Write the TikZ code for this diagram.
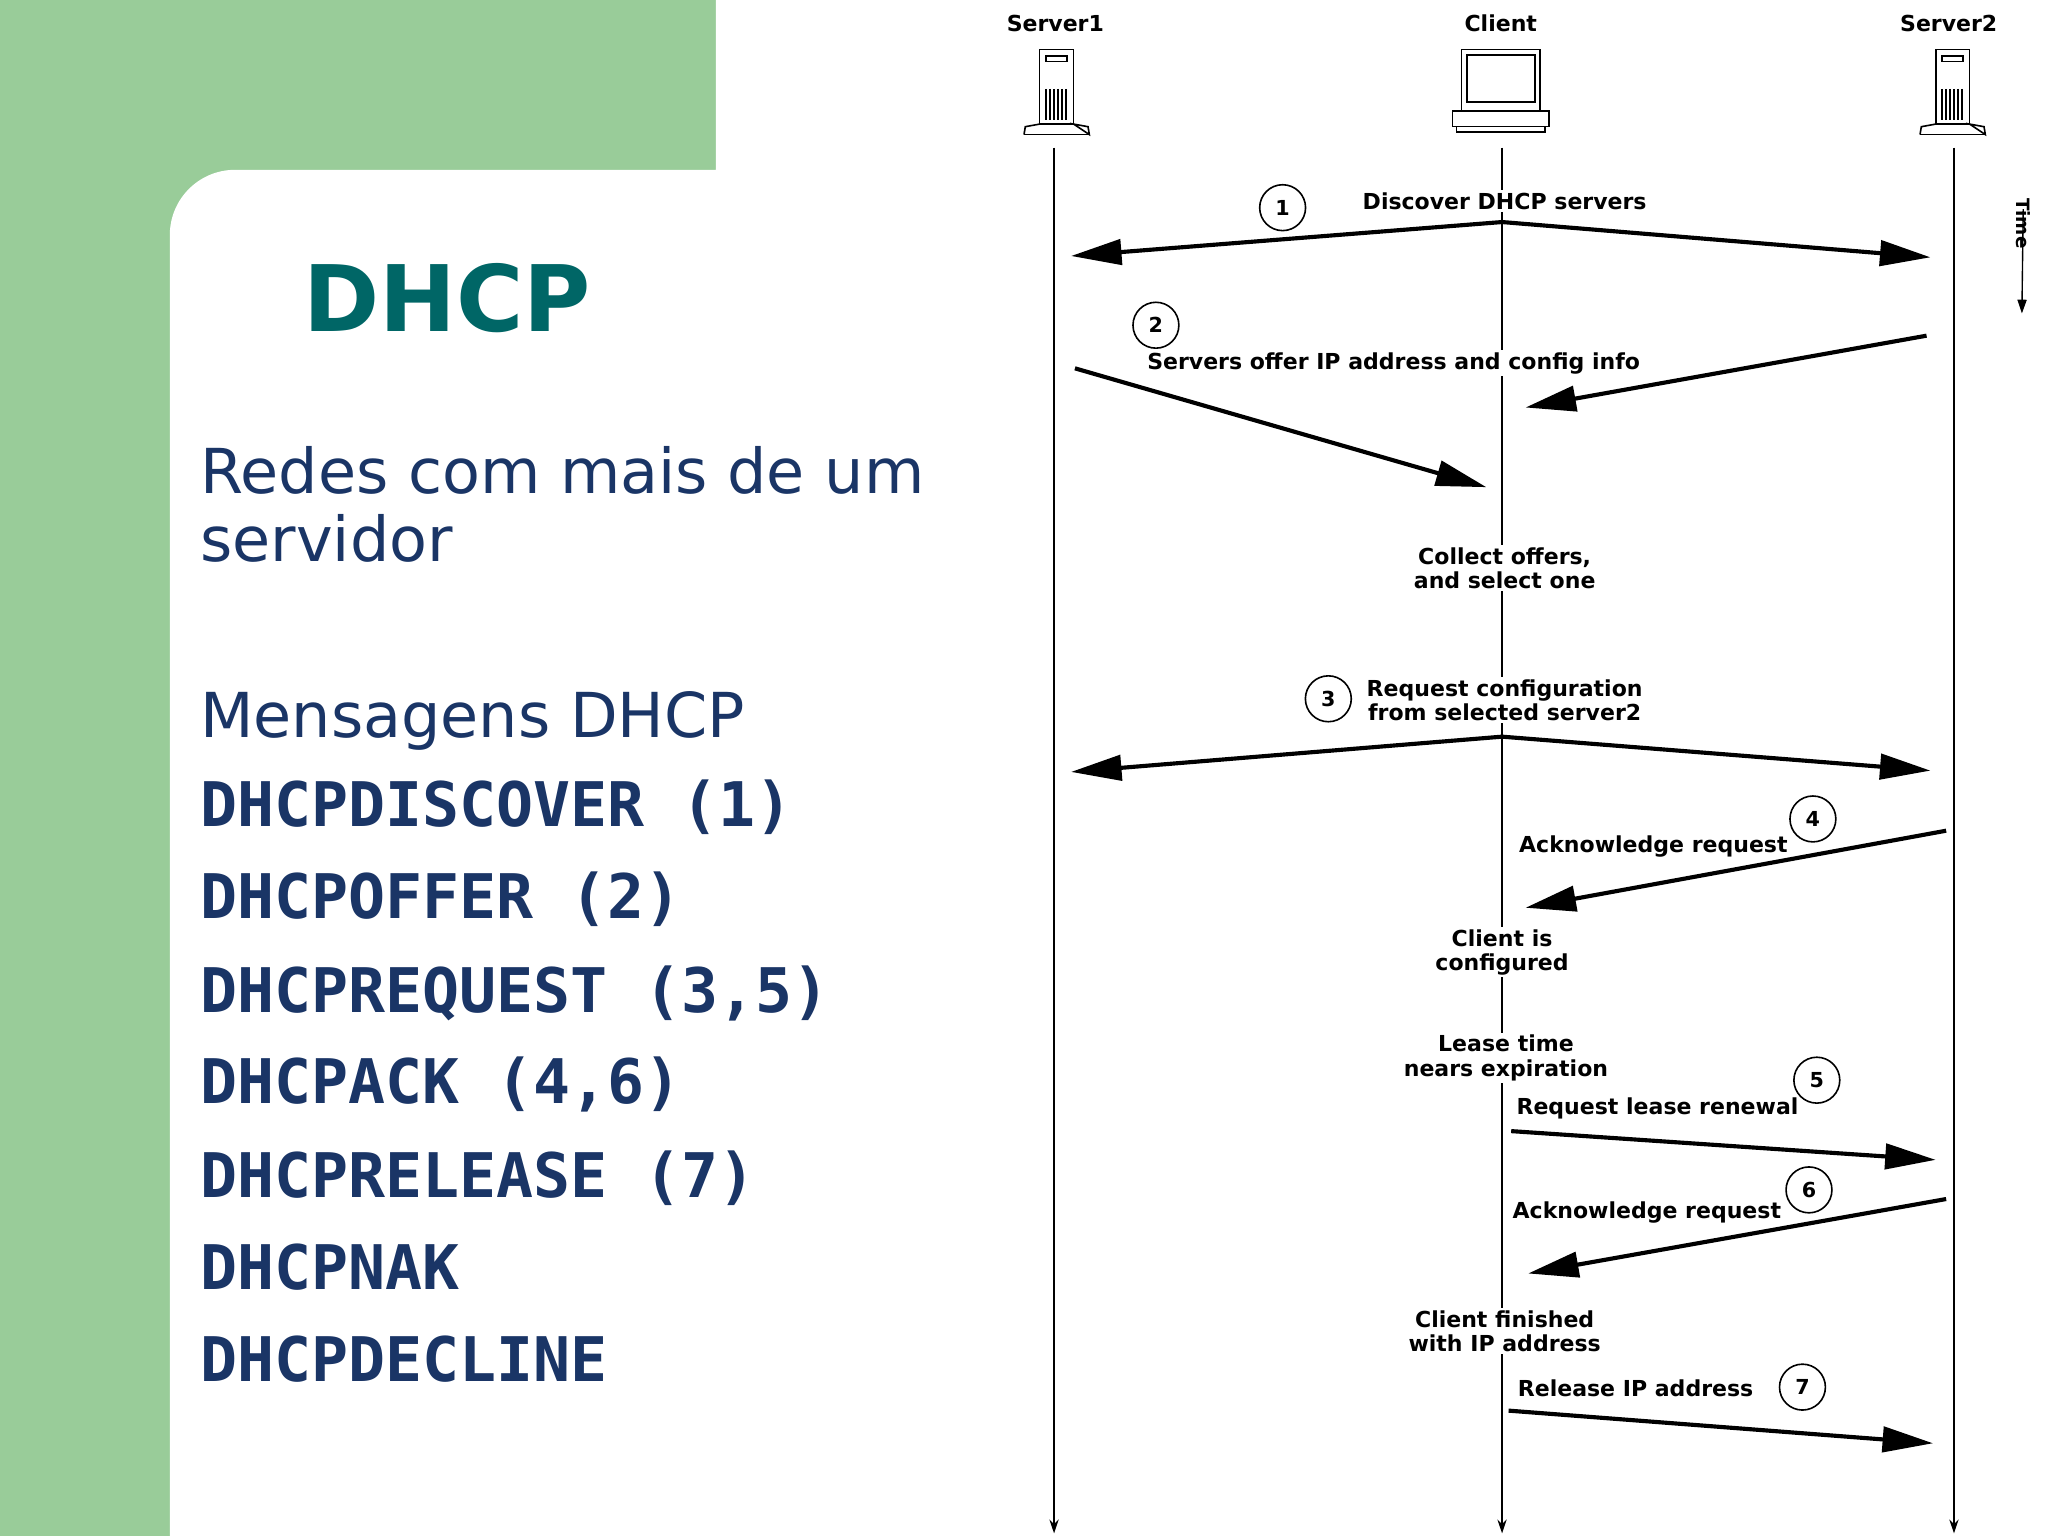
\documentclass[tikz,border=0pt]{standalone}
\usepackage{fontspec}
\setmainfont{DejaVu Sans}
\newfontfamily\monob{DejaVu Sans Mono}
\newfontfamily\diag{DejaVu Sans}
\usetikzlibrary{arrows.meta}
\definecolor{slgreen}{HTML}{99CC99}
\definecolor{teal}{HTML}{006666}
\definecolor{navy}{HTML}{1A3566}
\tikzset{
 msg/.style={line width=1.8pt,-{Triangle[length=22pt,width=11pt]}},
 life/.style={line width=0.9pt,-{Stealth[length=6pt,width=4pt]}},
 lbl/.style={font=\diag\fontsize{9.6}{10.6}\selectfont\bfseries,fill=white,inner sep=1pt,align=center},
 num/.style={circle,draw,line width=0.7pt,minimum size=20pt,inner sep=0pt,font=\diag\fontsize{9}{10}\selectfont\bfseries},
 hd/.style={font=\diag\fontsize{9.6}{11}\selectfont\bfseries},
 mono/.style={font=\monob\fontsize{26.8}{30}\selectfont\bfseries,text=navy,anchor=base west,inner sep=0pt},
 ico/.style={line width=0.7pt}
}
\begin{document}
\begin{tikzpicture}[x=0.02cm,y=-0.02cm]
\useasboundingbox (0,0) rectangle (1568,1176);
\fill[slgreen] (0,0) rectangle (1568,1176);
\fill[white] (130,1176) -- (130,180) arc[start angle=180,end angle=90,radius=1cm] -- (548,130) -- (548,0) -- (1568,0) -- (1568,1176) -- cycle;
% left text
\node[anchor=base west,inner sep=0pt,text=teal,font=\fontsize{40}{44}\selectfont\bfseries] (title) at (232,254) {DHCP};
\node[anchor=base west,inner sep=0pt,text=navy,font=\fontsize{27}{30}\selectfont] (r1) at (153,378) {Redes com mais de um};
\node[anchor=base west,inner sep=0pt,text=navy,font=\fontsize{27}{30}\selectfont] (r2) at (153,430) {servidor};
\node[anchor=base west,inner sep=0pt,text=navy,font=\fontsize{27}{30}\selectfont] (m0) at (153,565) {Mensagens DHCP};
\node[mono] (m1) at (153,633) {DHCPDISCOVER (1)};
\node[mono] (m2) at (153,703) {DHCPOFFER (2)};
\node[mono] (m3) at (153,775) {DHCPREQUEST (3,5)};
\node[mono] (m4) at (153,845) {DHCPACK (4,6)};
\node[mono] (m5) at (153,917) {DHCPRELEASE (7)};
\node[mono] (m6) at (153,987) {DHCPNAK};
\node[mono] (m7) at (153,1058) {DHCPDECLINE};
% headers
\node[hd] (h1) at (808,18) {Server1};
\node[hd] (h2) at (1149,18) {Client};
\node[hd] (h3) at (1492,18) {Server2};
% server icons
\foreach \cx in {809,1495}{
 \draw[ico] (\cx-13,38) rectangle (\cx+13,95);
 \draw[ico] (\cx-8,43) rectangle (\cx+8,47);
 \foreach \k in {-8,-5,-2,1,4,7} \draw[line width=0.8pt] (\cx+\k,68) -- (\cx+\k,92);
 \draw[ico] (\cx-25,103) -- (\cx-24,97) -- (\cx-13,95) (\cx+13,95) -- (\cx+24,97) -- (\cx+25,103) -- cycle;
 \draw[ico] (\cx-25,103) -- (\cx+25,103);
}
% laptop
\draw[ico] (1119,38) rectangle (1179,85);
\draw[ico] (1123,42) rectangle (1175,78);
\draw[ico] (1112,85) rectangle (1186,97);
\draw[ico] (1115,97) rectangle (1183,101);
% lifelines
\coordinate (s1a) at (807,113); \coordinate (s1b) at (807,1174);
\coordinate (ca) at (1150,113); \coordinate (cb) at (1150,1174);
\coordinate (s2a) at (1496,113); \coordinate (s2b) at (1496,1174);
\draw[life] (s1a) -- (s1b);
\draw[life] (ca) -- (cb);
\draw[life] (s2a) -- (s2b);
% time
\node[rotate=-90,font=\diag\fontsize{8}{9}\selectfont\bfseries,inner sep=1pt] (time) at (1549,171) {Time};
\coordinate (t2) at (1548,240);
\draw[line width=0.6pt,-{Triangle[length=6pt,width=4pt]}] ([yshift=-6pt]time.west) -- (t2);
% labels
\node[lbl] (l1) at (1152,154) {Discover DHCP servers};
\node[num] (n1) at (982,159) {1};
\node[lbl] (l2) at (1067,278) {Servers offer IP address and config info};
\node[num] (n2) at (885,249) {2};
\node[lbl] (l3) at (1152,435) {Collect offers,\\and select one};
\node[lbl] (l4) at (1152,536) {Request configuration\\from selected server2};
\node[num] (n3) at (1017,535) {3};
\node[lbl,anchor=west] (l5) at (1161,648) {Acknowledge request};
\node[num] (n4) at (1388,627) {4};
\node[lbl] (l6) at (1150,729) {Client is\\configured};
\node[lbl] (l7) at (1153,810) {Lease time\\nears expiration};
\node[lbl,anchor=west] (l8) at (1159,849) {Request lease renewal};
\node[num] (n5) at (1391,827) {5};
\node[lbl,anchor=west] (l9) at (1156,928) {Acknowledge request};
\node[num] (n6) at (1385,911) {6};
\node[lbl] (l10) at (1152,1019) {Client finished\\with IP address};
\node[lbl,anchor=west] (l11) at (1160,1063) {Release IP address};
\node[num] (n7) at (1380,1062) {7};
% message arrows
\coordinate (a1) at (1150,170); \coordinate (a1l) at (820,196); \coordinate (a1r) at (1478,197);
\draw[msg] (a1) -- (a1l); \draw[msg] (a1) -- (a1r);
\coordinate (a2s) at (1475,257); \coordinate (a2e) at (1168,312);
\draw[msg] (a2s) -- (a2e);
\coordinate (a2t) at (823,282); \coordinate (a2u) at (1138,373);
\draw[msg] (a2t) -- (a2u);
\coordinate (a3) at (1150,564); \coordinate (a3l) at (820,591); \coordinate (a3r) at (1478,590);
\draw[msg] (a3) -- (a3l); \draw[msg] (a3) -- (a3r);
\coordinate (a4s) at (1490,636); \coordinate (a4e) at (1168,695);
\draw[msg] (a4s) -- (a4e);
\coordinate (a5s) at (1157,866); \coordinate (a5e) at (1482,888);
\draw[msg] (a5s) -- (a5e);
\coordinate (a6s) at (1490,918); \coordinate (a6e) at (1170,975);
\draw[msg] (a6s) -- (a6e);
\coordinate (a7s) at (1155,1080); \coordinate (a7e) at (1480,1105);
\draw[msg] (a7s) -- (a7e);
\end{tikzpicture}
\end{document}
